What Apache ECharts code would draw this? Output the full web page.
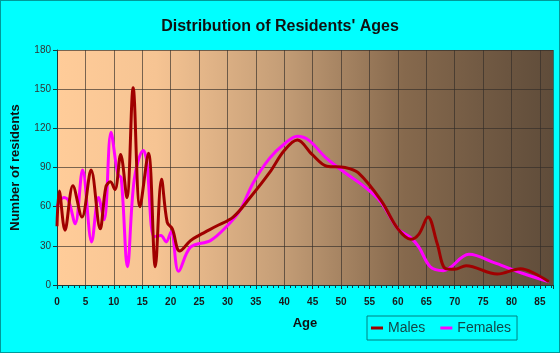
<!DOCTYPE html>
<html>
<head>
<meta charset="utf-8">
<script src="https://cdn.jsdelivr.net/npm/echarts@6/dist/echarts.min.js"></script>
<style>
html,body{margin:0;padding:0;background:#00ffff;}
#chart{width:560px;height:353px;box-sizing:border-box;border:1px solid #009a9a;}
</style>
</head>
<body>
<div id="chart"></div>
<script>
var seriesNames = ["Males", "Females"];
var xTicks = [0, 5, 10, 15, 20, 25, 30, 35, 40, 45, 50, 55, 60, 65, 70, 75, 80, 85];
var yTicks = [0, 30, 60, 90, 120, 150, 180];

// [age, residents]
var males = [
	[0, 45], [0.4, 72], [1.4, 42], [2.8, 76], [4.4, 52], [6.0, 88], [7.6, 43],
	[8.6, 75], [9.4, 79], [10.2, 73], [11.2, 100], [12.3, 67], [13.4, 151],
	[14.6, 60], [16.1, 101], [17.3, 14], [18.4, 81], [19.4, 48], [20.3, 43],
	[21.6, 26], [23.5, 34], [25, 38], [28, 45], [31, 52], [34, 67], [37.4, 86],
	[40, 103], [42.3, 111], [44.9, 100], [47.5, 91], [50.7, 90], [53, 86],
	[57, 65], [60, 43], [62.3, 35], [63.7, 39], [65.3, 52], [66.9, 32],
	[68.4, 12.5], [70, 12], [72, 14.8], [77.5, 8.4], [81.6, 12.4], [84, 9], [86.6, 2.5]
];
var females = [
	[0, 60], [1.2, 67], [2, 65], [3.2, 47], [4.5, 88], [6.1, 33], [7.3, 67],
	[8.3, 50], [9.5, 117], [10.7, 85], [11.3, 82], [12.4, 14], [13.6, 81],
	[15.2, 103], [15.8, 95], [17.1, 37], [18.3, 38], [19.2, 33], [20.1, 41],
	[21.4, 10.5], [23.5, 29], [27, 34], [29.9, 45], [32.2, 57], [34.5, 78],
	[37.4, 97], [40, 108], [42.3, 114], [44.3, 111], [47.2, 98], [50.7, 86],
	[54.2, 75], [57, 63.6], [60, 43], [62.3, 36], [63.7, 29], [65.7, 14],
	[68, 11], [72.5, 23.5], [77.3, 16.5], [81.9, 9], [86.6, 2.5]
];

var fontFam = "'Liberation Sans', Arial, sans-serif";
var chart = echarts.init(document.getElementById("chart"));
var option = {
	backgroundColor: "#00ffff",
	animation: false,
	title: {
		text: "Distribution of Residents' Ages",
		left: "center",
		top: 13,
		textStyle: {fontFamily: fontFam, fontSize: 16, fontWeight: "bold", color: "#111"}
	},
	legend: {
		data: seriesNames,
		left: 366,
		top: 315,
		padding: [5, 6, 5, 4],
		itemGap: 15,
		itemWidth: 12,
		itemHeight: 3,
		icon: "rect",
		borderColor: "#008080",
		borderWidth: 1,
		textStyle: {fontFamily: fontFam, fontSize: 14, color: "#124848"}
	},
	grid: {
		left: 54, top: 49, right: 6, bottom: 67,
		show: true,
		borderWidth: 0,
		backgroundColor: {
			type: "linear", x: 0, y: 0, x2: 1, y2: 0,
			colorStops: [
				{offset: 0, color: "#ffcc99"},
				{offset: 0.2, color: "#f6c493"},
				{offset: 0.45, color: "#c59e77"},
				{offset: 0.7, color: "#86694d"},
				{offset: 1, color: "#5f4c3a"}
			]
		}
	},
	xAxis: {
		type: "value",
		min: 0,
		max: 87.3,
		interval: 5,
		name: "Age",
		nameLocation: "middle",
		nameGap: 32,
		nameTextStyle: {fontFamily: fontFam, fontSize: 13, fontWeight: "bold", color: "#111"},
		axisLine: {show: true, lineStyle: {color: "#1a3a3a", width: 1}},
		axisTick: {show: true, length: 4, lineStyle: {color: "#1a3a3a"}},
		minorTick: {show: true, splitNumber: 5, length: 3, lineStyle: {color: "#1a3a3a"}},
		axisLabel: {
			fontFamily: fontFam, fontSize: 10, fontWeight: "bold", color: "#1a1a1a", margin: 12,
			showMaxLabel: false,
			formatter: function (v) { return xTicks.indexOf(v) >= 0 ? v : ""; }
		},
		splitLine: {show: true, lineStyle: {color: "rgba(50,45,40,0.65)", width: 1}}
	},
	yAxis: {
		type: "value",
		min: yTicks[0],
		max: yTicks[yTicks.length - 1],
		interval: 30,
		name: "Number of residents",
		nameLocation: "middle",
		nameRotate: 90,
		nameGap: 35,
		nameTextStyle: {fontFamily: fontFam, fontSize: 13, fontWeight: "bold", color: "#111"},
		axisLine: {show: true, lineStyle: {color: "#1a3a3a", width: 1}},
		axisTick: {show: true, length: 4, lineStyle: {color: "#1a3a3a"}},
		axisLabel: {fontFamily: fontFam, fontSize: 10, color: "#333", margin: 6},
		splitLine: {show: true, lineStyle: {color: "rgba(50,45,40,0.65)", width: 1}}
	},
	series: [
		{
			name: "Females",
			type: "line",
			data: females,
			smooth: 0.35,
			symbol: "none",
			z: 2,
			lineStyle: {color: "#ff00ff", width: 3},
			itemStyle: {color: "#ff00ff"}
		},
		{
			name: "Males",
			type: "line",
			data: males,
			smooth: 0.35,
			symbol: "none",
			z: 3,
			lineStyle: {color: "#a00000", width: 3},
			itemStyle: {color: "#a00000"}
		}
	]
};
chart.setOption(option);
</script>
</body>
</html>
